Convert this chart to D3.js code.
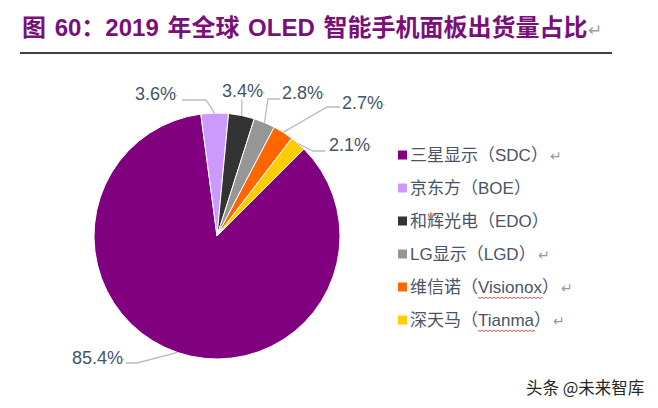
<!DOCTYPE html>
<html>
<head>
<meta charset="utf-8">
<script src="https://cdn.jsdelivr.net/npm/d3@7/dist/d3.min.js"></script>
<style>
  body { margin: 0; background: #fff; }
  svg { display: block; }
</style>
</head>
<body>
<svg id="chart" width="658" height="408"></svg>
<script>

// data
const makers = [ "三星显示", "京东方", "和辉光电", "LG显示", "维信诺", "深天马" ];
const makerCodes = [ "SDC", "BOE", "EDO", "LGD", "Visionox", "Tianma" ];
const shares = [ 85.4, 3.6, 3.4, 2.8, 2.7, 2.1 ];
const sliceColors = [ "#800080", "#cc99ff", "#333333", "#969696", "#ff6600", "#ffcc00" ];
const legendReturn = [ true, false, false, true, true, true ];
const spellFlag = [ false, false, false, false, true, true ];

const titleText = "图 60：2019 年全球 OLED 智能手机面板出货量占比";

// label layout: text spot and elbow of each leader line
const labelSpots = [
  { x: 72,  y: 364, lx: 126, ly: 363, ex: 137, ey: 363 },
  { x: 135, y: 100, lx: 182, ly: 100, ex: 206, ey: 100 },
  { x: 222, y: 97,  lx: 242, ly: 100, ex: 242, ey: 100 },
  { x: 282, y: 99,  lx: 280, ly: 99,  ex: 268, ey: 99 },
  { x: 342, y: 109, lx: 340, ly: 107, ex: 327, ey: 107 },
  { x: 329, y: 151, lx: 325, ly: 151, ex: 313, ey: 151 }
];

const svg = d3.select( "#chart" );

const cx = 217, cy = 236, radius = 123;

// title
const title = svg.append( "text" )
  .attr( "x", 22 )
  .attr( "y", 36 )
  .style( "font-family", "'Liberation Sans', 'Noto Sans CJK SC', sans-serif" )
  .style( "font-weight", "bold" )
  .style( "font-size", "24px" )
  .style( "word-spacing", "2px" )
  .attr( "fill", "#7a0f7a" );

title.append( "tspan" ).text( titleText );
title.append( "tspan" )
  .attr( "dx", 1 )
  .style( "font-weight", "normal" )
  .style( "font-size", "17px" )
  .attr( "fill", "#a0a0a0" )
  .text( "↵" );

svg.append( "line" )
  .attr( "x1", 20 ).attr( "x2", 612 )
  .attr( "y1", 53 ).attr( "y2", 53 )
  .attr( "stroke", "#000" )
  .attr( "stroke-width", 1.3 );

// pie
const pie = d3.pie()
  .sort( null )
  .value( d => d )
  .startAngle( Math.PI / 4 )
  .endAngle( Math.PI / 4 + 2 * Math.PI );

const arcs = pie( shares );

const arc = d3.arc().innerRadius( 0 ).outerRadius( radius );
const edge = d3.arc().innerRadius( radius ).outerRadius( radius );

const g = svg.append( "g" ).attr( "transform", "translate(" + cx + "," + cy + ")" );

g.selectAll( "path.slice" )
  .data( arcs )
  .enter().append( "path" )
    .attr( "class", "slice" )
    .attr( "d", arc )
    .attr( "fill", ( d, i ) => sliceColors[ i ] )
    .attr( "stroke", "#fff" )
    .attr( "stroke-width", 1 );

// leader lines
svg.selectAll( "polyline.leader" )
  .data( arcs )
  .enter().append( "polyline" )
    .attr( "class", "leader" )
    .attr( "points", ( d, i ) => {
      const p = edge.centroid( d );
      const s = labelSpots[ i ];
      return [ [ s.lx, s.ly ], [ s.ex, s.ey ], [ p[ 0 ] + cx, p[ 1 ] + cy ] ].map( q => q.join( "," ) ).join( " " );
    } )
    .attr( "fill", "none" )
    .attr( "stroke", "#b4bcc8" )
    .attr( "stroke-width", 1.3 );

const pct = svg.selectAll( "text.pct" )
  .data( arcs )
  .enter().append( "text" )
    .attr( "class", "pct" )
    .attr( "x", ( d, i ) => labelSpots[ i ].x )
    .attr( "y", ( d, i ) => labelSpots[ i ].y )
    .style( "font-family", "'Liberation Sans', Arial, sans-serif" )
    .style( "font-size", "18px" )
    .attr( "fill", "#44546a" );

pct.append( "tspan" ).text( d => d3.format( ".1f" )( d.data ) + "%" );
pct.append( "tspan" )
  .style( "font-size", "8px" )
  .attr( "fill", "#7a8494" )
  .text( "'" );

// legend
const legend = svg.append( "g" ).attr( "transform", "translate(398,0)" );

const rows = legend.selectAll( "g.row" )
  .data( makers )
  .enter().append( "g" )
    .attr( "class", "row" )
    .attr( "transform", ( d, i ) => "translate(0," + ( 155 + i * 33 ) + ")" );

rows.append( "rect" )
  .attr( "x", 0 ).attr( "y", -4.5 )
  .attr( "width", 9 ).attr( "height", 9 )
  .attr( "fill", ( d, i ) => sliceColors[ i ] );

const rowText = rows.append( "text" )
  .attr( "x", 12 )
  .attr( "y", 6 )
  .style( "font-family", "'Liberation Sans', 'Noto Sans CJK SC', sans-serif" )
  .style( "font-size", "17px" )
  .attr( "fill", "#4a5466" );

rowText.append( "tspan" ).text( d => d + "（" );
rowText.append( "tspan" )
  .attr( "class", "code" )
  .text( ( d, i ) => makerCodes[ i ] );
rowText.append( "tspan" ).text( "）" );
rowText.filter( ( d, i ) => legendReturn[ i ] )
  .append( "tspan" )
    .attr( "dx", 2 )
    .style( "font-size", "14px" )
    .attr( "fill", "#9a9a9a" )
    .text( "↵" );

// red spell-check squiggles under the latin names
rows.filter( ( d, i ) => spellFlag[ i ] ).each( function() {
  const row = d3.select( this );
  const code = row.select( "tspan.code" ).node();
  const n = code.getNumberOfChars();
  const x0 = code.getStartPositionOfChar( 0 ).x;
  const x1 = code.getEndPositionOfChar( n - 1 ).x;
  const y = 10;
  let path = "M" + x0 + "," + y;
  for( let x = x0, k = 0; x < x1; x += 2, k++ ) {
    path += " L" + Math.min( x + 2, x1 ) + "," + ( y + ( k % 2 === 0 ? 1.6 : 0 ) );
  }
  row.append( "path" )
    .attr( "d", path )
    .attr( "fill", "none" )
    .attr( "stroke", "#e53a3a" )
    .attr( "stroke-width", 0.9 );
} );

// watermark
svg.append( "text" )
  .attr( "x", 526 )
  .attr( "y", 394 )
  .style( "font-family", "'Noto Sans CJK SC', sans-serif" )
  .style( "font-size", "16.5px" )
  .attr( "fill", "#262626" )
  .text( "头条 @未来智库" );

</script>
</body>
</html>
